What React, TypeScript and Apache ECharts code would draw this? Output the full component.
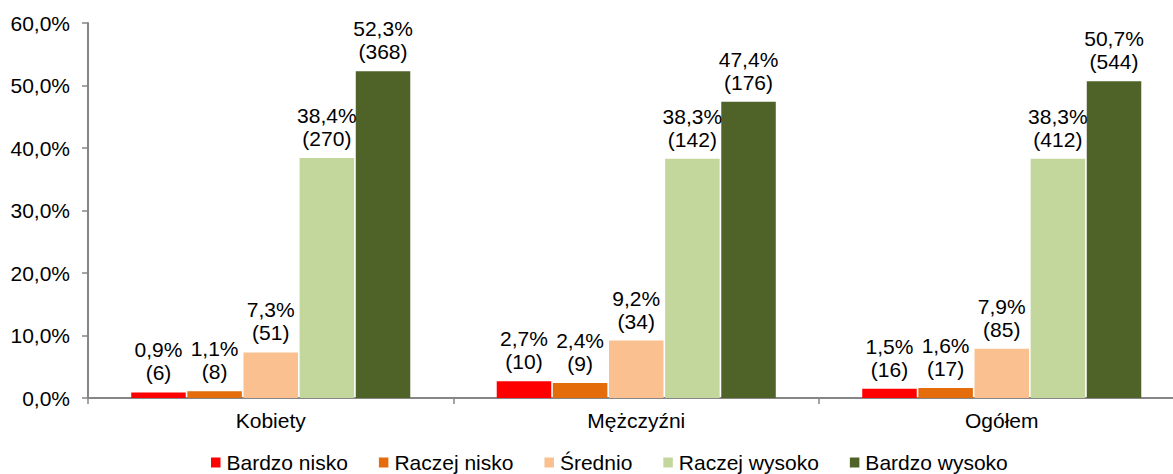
import React, { useEffect, useRef } from "react";
import * as echarts from "echarts";

const categories = ["Kobiety", "Mężczyźni", "Ogółem"];
const seriesNames = ["Bardzo nisko", "Raczej nisko", "Średnio", "Raczej wysoko", "Bardzo wysoko"];
const colors = ["#FF0000", "#E46C0A", "#FAC090", "#C3D69B", "#4F6228"];
const bardzoNisko = [0.9, 2.7, 1.5];
const raczejNisko = [1.1, 2.4, 1.6];
const srednio = [7.3, 9.2, 7.9];
const raczejWysoko = [38.4, 38.3, 38.3];
const bardzoWysoko = [52.3, 47.4, 50.7];
const countsBardzoNisko = [6, 10, 16];
const countsRaczejNisko = [8, 9, 17];
const countsSrednio = [51, 34, 85];
const countsRaczejWysoko = [270, 142, 412];
const countsBardzoWysoko = [368, 176, 544];
const yTicks = [0, 10, 20, 30, 40, 50, 60];

const values = [bardzoNisko, raczejNisko, srednio, raczejWysoko, bardzoWysoko];
const counts = [countsBardzoNisko, countsRaczejNisko, countsSrednio, countsRaczejWysoko, countsBardzoWysoko];

const fmt = (v: number) => v.toFixed(1).replace(".", ",") + "%";
const FONT = "'Liberation Sans', Arial, sans-serif";
const FS = 21;

export default function App() {
  const ref = useRef<HTMLDivElement>(null);
  useEffect(() => {
    if (!ref.current) return;
    const chart = echarts.init(ref.current, undefined, { renderer: "svg" });
    chart.setOption({
      animation: false,
      textStyle: { fontFamily: FONT },
      grid: { left: 88, top: 23, bottom: 76, right: 5.5, containLabel: false },
      legend: {
        data: seriesNames,
        left: 211,
        top: 452,
        padding: 0,
        itemWidth: 9.5,
        itemHeight: 10,
        itemGap: 31,
        icon: "rect",
        textStyle: { fontSize: FS, lineHeight: 18, color: "#000", fontFamily: FONT, padding: [0, 0, 0, 1] },
      },
      xAxis: {
        type: "category",
        data: categories,
        axisLine: { show: true, lineStyle: { color: "#868686", width: 2 } },
        axisTick: { show: true, length: 6, lineStyle: { color: "#868686", width: 1.5 } },
        axisLabel: { fontSize: FS, color: "#000", margin: 12, fontFamily: FONT },
      },
      yAxis: {
        type: "value",
        min: yTicks[0],
        max: yTicks[yTicks.length - 1],
        interval: 10,
        axisLine: { show: true, lineStyle: { color: "#868686", width: 2 } },
        axisTick: { show: true, length: 6, lineStyle: { color: "#868686", width: 1.5 } },
        splitLine: { show: false },
        axisLabel: { fontSize: FS, color: "#000", margin: 18, fontFamily: FONT, formatter: (v: number) => fmt(v) },
      },
      series: seriesNames.map((name, i) => ({
        name,
        type: "bar",
        data: values[i],
        barWidth: 54.5,
        barGap: "3%",
        itemStyle: { color: colors[i] },
        label: {
          show: true,
          position: "top",
          distance: 8,
          fontSize: FS,
          lineHeight: 23,
          color: "#000",
          fontFamily: FONT,
          formatter: (p: any) => fmt(p.value) + "\n(" + counts[i][p.dataIndex] + ")",
        },
      })),
    });
    return () => chart.dispose();
  }, []);
  return (
    <div
      ref={ref}
      style={{ position: "fixed", left: 0, top: 0, width: 1190, height: 474, background: "#fff" }}
    />
  );
}
